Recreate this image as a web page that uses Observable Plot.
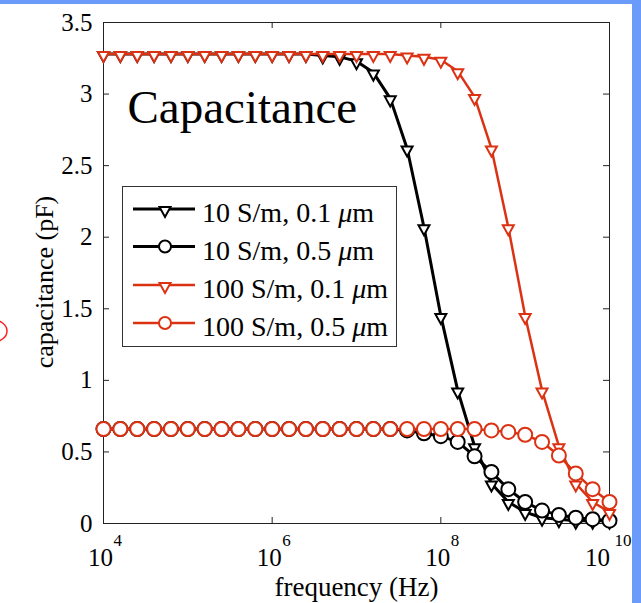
<!DOCTYPE html>
<html>
<head>
<meta charset="utf-8">
<script src="https://cdn.jsdelivr.net/npm/d3@7"></script>
<script src="https://cdn.jsdelivr.net/npm/@observablehq/plot@0.6"></script>
<style>
  html, body { margin: 0; padding: 0; background: #fff; }
  #page { position: relative; width: 641px; height: 603px; overflow: hidden; background: #fff; font-family: "Liberation Serif", serif; }
  #chart svg { position: absolute; left: 0; top: 0; }
  .overlay { position: absolute; left: 0; top: 0; }
  .band { position: absolute; background: #6b9bfa; }
</style>
</head>
<body>
<div id="page">
  <div id="chart"></div>
  <svg id="legend" class="overlay" width="641" height="603"></svg>
  <svg class="overlay" width="641" height="603">
    <ellipse cx="-7" cy="331" rx="14" ry="11" fill="none" stroke="#ff2020" stroke-width="1.5"></ellipse>
  </svg>
  <div class="band" style="left:0;top:0;width:641px;height:4px"></div>
  <div class="band" style="left:632px;top:0;width:9px;height:603px"></div>
</div>
<script>
// Frequency sweep, log10(Hz)
const exponents = [4.0, 4.2, 4.4, 4.6, 4.8, 5.0, 5.2, 5.4, 5.6, 5.8,
                   6.0, 6.2, 6.4, 6.6, 6.8, 7.0, 7.2, 7.4, 7.6, 7.8,
                   8.0, 8.2, 8.4, 8.6, 8.8, 9.0, 9.2, 9.4, 9.6, 9.8, 10.0];

// Capacitance (pF) for each conductivity / thickness case
const cap10Thin = [3.28, 3.28, 3.28, 3.28, 3.28, 3.28, 3.28, 3.28, 3.28, 3.28,
                   3.28, 3.28, 3.28, 3.27, 3.26, 3.23, 3.15, 2.97, 2.62, 2.07,
                   1.45, 0.93, 0.54, 0.28, 0.15, 0.08, 0.04, 0.03, 0.02, 0.02, 0.02];
const cap10Thick = [0.66, 0.66, 0.66, 0.66, 0.66, 0.66, 0.66, 0.66, 0.66, 0.66,
                    0.66, 0.66, 0.66, 0.66, 0.66, 0.66, 0.66, 0.66, 0.65, 0.63,
                    0.61, 0.57, 0.47, 0.36, 0.24, 0.15, 0.09, 0.06, 0.04, 0.03, 0.02];
const cap100Thin = [3.28, 3.28, 3.28, 3.28, 3.28, 3.28, 3.28, 3.28, 3.28, 3.28,
                    3.28, 3.28, 3.28, 3.28, 3.28, 3.28, 3.28, 3.28, 3.27, 3.26,
                    3.24, 3.16, 2.98, 2.62, 2.07, 1.45, 0.93, 0.54, 0.28, 0.15, 0.08];
const cap100Thick = [0.66, 0.66, 0.66, 0.66, 0.66, 0.66, 0.66, 0.66, 0.66, 0.66,
                     0.66, 0.66, 0.66, 0.66, 0.66, 0.66, 0.66, 0.66, 0.66, 0.66,
                     0.66, 0.66, 0.66, 0.65, 0.64, 0.62, 0.57, 0.475, 0.35, 0.24, 0.15];

const seriesLabels = ["10 S/m, 0.1 ", "10 S/m, 0.5 ", "100 S/m, 0.1 ", "100 S/m, 0.5 "];
const seriesColors = ["#000000", "#000000", "#dc3214", "#dc3214"];
const seriesMarkers = ["triangle", "circle", "triangle", "circle"];
const seriesLineWidths = [3, 3, 2.5, 2.5];
const seriesValues = [cap10Thin, cap10Thick, cap100Thin, cap100Thick];

const yTicks = [0, 0.5, 1, 1.5, 2, 2.5, 3, 3.5];
const xTickExponents = [4, 6, 8, 10];

// Downward-pointing triangle, hanging just below its data point
const triangleDown = {
  draw(context, size) {
    const s = Math.sqrt(size / Math.PI) / 6;
    context.moveTo(-5.5 * s, -2 * s);
    context.lineTo(5.5 * s, -2 * s);
    context.lineTo(0, 8 * s);
    context.closePath();
  }
};

const series = seriesLabels.map((label, i) => ({
  label,
  color: seriesColors[i],
  marker: seriesMarkers[i],
  lineWidth: seriesLineWidths[i],
  rows: exponents.map((e, k) => ({f: 10 ** e, c: seriesValues[i][k]}))
}));

const seriesMarks = series.flatMap(s => [
  Plot.line(s.rows, {x: "f", y: "c", stroke: s.color, strokeWidth: s.lineWidth}),
  Plot.dot(s.rows, {
    x: "f", y: "c",
    r: s.marker === "triangle" ? 6 : 7,
    symbol: s.marker === "triangle" ? triangleDown : "circle",
    stroke: s.color, fill: "white", strokeWidth: 2
  })
]);

const xTicks = xTickExponents.map(e => 10 ** e);
const oneDigit = xTickExponents.filter(e => e < 10);
const twoDigit = xTickExponents.filter(e => e >= 10);

const chart = Plot.plot({
  width: 641,
  height: 603,
  marginLeft: 103,
  marginRight: 32,
  marginTop: 22,
  marginBottom: 80,
  style: {fontFamily: '"Liberation Serif", serif', fontSize: "25px", background: "transparent", color: "#000", overflow: "visible"},
  x: {type: "log", domain: [1e4, 1e10], axis: null},
  y: {domain: [0, 3.5], axis: null},
  marks: [
    Plot.frame({stroke: "#222", strokeWidth: 1}),
    // inward ticks on all four sides
    Plot.tickY(yTicks, {y: d => d, insetRight: 500, stroke: "#222"}),
    Plot.tickY(yTicks, {y: d => d, insetLeft: 500, stroke: "#222"}),
    Plot.tickX(xTicks, {x: d => d, insetTop: 495, stroke: "#222"}),
    Plot.tickX(xTicks, {x: d => d, insetBottom: 495, stroke: "#222"}),
    Plot.axisY({ticks: yTicks, tickSize: 0, tickPadding: 11, label: null, tickFormat: d => String(d), fontSize: 25}),
    // 10^n tick labels
    Plot.text(oneDigit, {x: e => 10 ** e, frameAnchor: "bottom", lineAnchor: "middle", text: () => "10", dx: -3, dy: 34, fontSize: 25}),
    Plot.text(oneDigit, {x: e => 10 ** e, frameAnchor: "bottom", lineAnchor: "middle", text: e => String(e), textAnchor: "start", dx: 10, dy: 17, fontSize: 17}),
    Plot.text(twoDigit, {x: e => 10 ** e, frameAnchor: "bottom", lineAnchor: "middle", text: () => "10", dx: -12, dy: 34, fontSize: 25}),
    Plot.text(twoDigit, {x: e => 10 ** e, frameAnchor: "bottom", lineAnchor: "middle", text: e => String(e), textAnchor: "start", dx: 5, dy: 17, fontSize: 17}),
    Plot.text(["frequency (Hz)"], {frameAnchor: "bottom", lineAnchor: "middle", dy: 64, fontSize: 27}),
    Plot.text(["capacitance (pF)"], {frameAnchor: "left", textAnchor: "middle", lineAnchor: "middle", rotate: -90, dx: -59, dy: 9, fontSize: 26}),
    Plot.text(["Capacitance"], {frameAnchor: "top-left", textAnchor: "start", lineAnchor: "middle", dx: 24, dy: 85, fontSize: 47}),
    ...seriesMarks
  ]
});
document.getElementById("chart").appendChild(chart);

// Legend box
const legend = d3.select("#legend");
const box = {x: 122.5, y: 186.5, w: 274, h: 160};
legend.append("rect")
  .attr("x", box.x).attr("y", box.y).attr("width", box.w).attr("height", box.h)
  .attr("fill", "white").attr("stroke", "#333").attr("stroke-width", 1);
const rowY = [209, 246.5, 285, 323];
series.forEach((s, i) => {
  const y = rowY[i];
  legend.append("line")
    .attr("x1", 133).attr("x2", 195).attr("y1", y).attr("y2", y)
    .attr("stroke", s.color).attr("stroke-width", s.lineWidth);
  if (s.marker === "triangle") {
    legend.append("path")
      .attr("d", "M-5.5,-2L5.5,-2L0,8Z")
      .attr("transform", `translate(165,${y})`)
      .attr("fill", "white").attr("stroke", s.color).attr("stroke-width", 2);
  } else {
    legend.append("circle")
      .attr("cx", 165).attr("cy", y).attr("r", 6)
      .attr("fill", "white").attr("stroke", s.color).attr("stroke-width", 2);
  }
  const t = legend.append("text")
    .attr("x", 202).attr("y", y + 13)
    .attr("font-family", '"Liberation Serif", serif')
    .attr("font-size", 28)
    .attr("fill", "#000")
    .attr("xml:space", "preserve");
  t.append("tspan").text(s.label);
  t.append("tspan").attr("font-style", "italic").text("\u03bc");
  t.append("tspan").text("m");
});
</script>
</body>
</html>
